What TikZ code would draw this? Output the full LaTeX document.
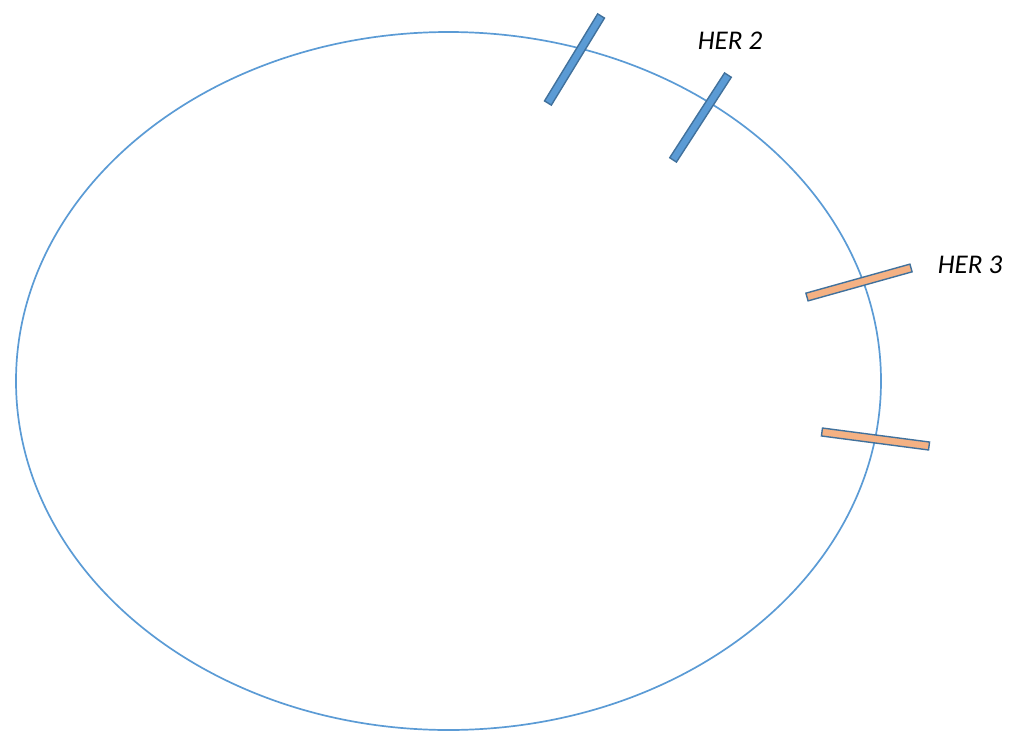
\documentclass[tikz,border=0pt]{standalone}
\usepackage{fontspec}
\setmainfont{Carlito}
\definecolor{ringblue}{HTML}{5B9BD5}
\definecolor{barblue}{HTML}{5B9BD5}
\definecolor{barline}{HTML}{41719C}
\definecolor{barorange}{HTML}{F4B183}
\tikzset{
  ring/.style={draw=ringblue, line width=1.7pt},
  bluebar/.style={draw=barline, fill=barblue, line width=1.4pt, inner sep=0pt, minimum height=8pt},
  orangebar/.style={draw=barline, fill=barorange, line width=1.4pt, inner sep=0pt, minimum height=8pt},
  lbl/.style={font=\fontsize{27}{31}\selectfont\itshape, inner sep=0pt}
}
\begin{document}
\begin{tikzpicture}[x=1pt,y=-1pt]
\useasboundingbox (0,0) rectangle (1010,731);
\draw[ring] (448.5,381) ellipse [x radius=432.5, y radius=349];
\node[bluebar, minimum width=102pt, rotate=58.6] (b1) at (574.5,59.5) {};
\node[bluebar, minimum width=101pt, rotate=57.1] (b2) at (700.5,117.5) {};
\node[orangebar, minimum width=108pt, rotate=15.6] (o1) at (859,282.5) {};
\node[orangebar, minimum width=108pt, rotate=-7.45] (o2) at (875.5,439) {};
\node[lbl] (her2) at (730,41) {HER 2};
\node[lbl] (her3) at (970,265) {HER 3};
\end{tikzpicture}
\end{document}
